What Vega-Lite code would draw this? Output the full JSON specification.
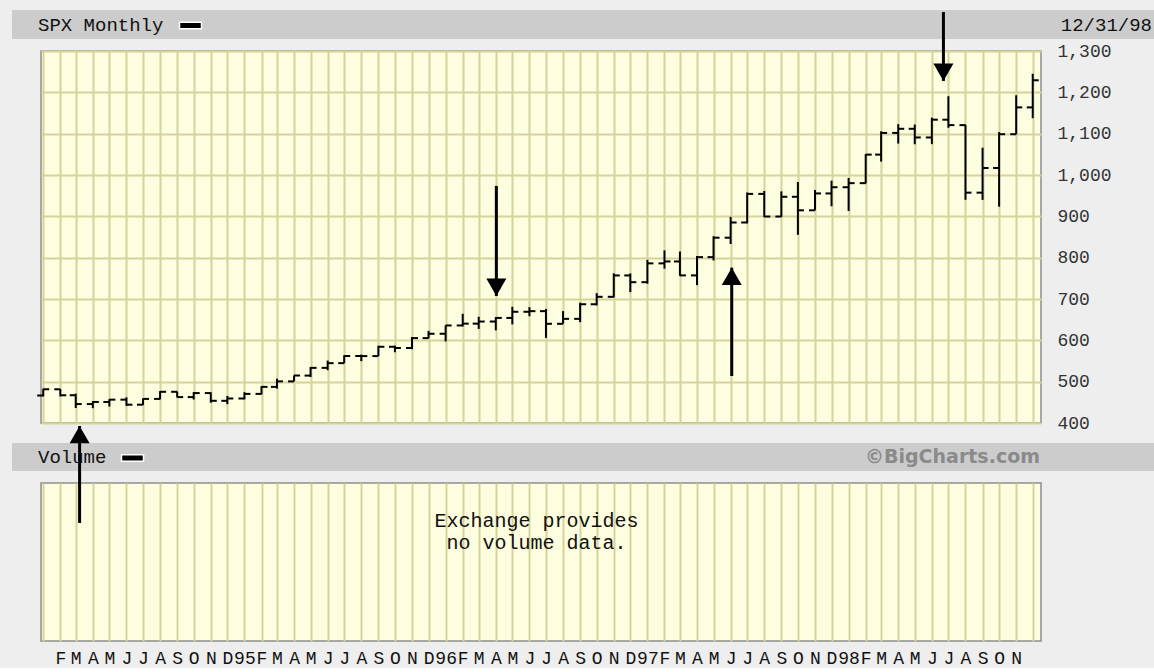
{
  "$schema": "https://vega.github.io/schema/vega-lite/v6.json",
  "background": "#eeeeee",
  "padding": {"left": 12, "top": 9, "right": 0, "bottom": 0},
  "columns": 2,
  "align": "each",
  "bounds": "flush",
  "spacing": 0,
  "config": {
    "view": {"stroke": null},
    "text": {"font": "Liberation Mono"}
  },
  "datasets": {
    "blank": [{}],
    "ohlc": [
      {"date": "1994/01/01", "open": 466.5, "high": 482.9, "low": 464.4, "close": 481.6},
      {"date": "1994/02/01", "open": 481.6, "high": 482.2, "low": 464.3, "close": 467.1},
      {"date": "1994/03/01", "open": 467.2, "high": 471.1, "low": 436.2, "close": 445.8},
      {"date": "1994/04/01", "open": 445.8, "high": 453.0, "low": 435.9, "close": 450.9},
      {"date": "1994/05/01", "open": 450.9, "high": 457.6, "low": 439.8, "close": 456.5},
      {"date": "1994/06/01", "open": 456.5, "high": 462.1, "low": 441.5, "close": 444.3},
      {"date": "1994/07/01", "open": 444.3, "high": 459.3, "low": 443.4, "close": 458.3},
      {"date": "1994/08/01", "open": 458.3, "high": 477.2, "low": 457.2, "close": 475.5},
      {"date": "1994/09/01", "open": 475.5, "high": 476.0, "low": 461.9, "close": 462.7},
      {"date": "1994/10/01", "open": 462.7, "high": 474.7, "low": 456.8, "close": 472.4},
      {"date": "1994/11/01", "open": 472.4, "high": 474.3, "low": 449.1, "close": 453.7},
      {"date": "1994/12/01", "open": 453.7, "high": 465.3, "low": 445.6, "close": 459.3},
      {"date": "1995/01/01", "open": 459.3, "high": 474.5, "low": 457.2, "close": 470.4},
      {"date": "1995/02/01", "open": 470.4, "high": 489.2, "low": 469.3, "close": 487.4},
      {"date": "1995/03/01", "open": 487.4, "high": 507.2, "low": 483.2, "close": 500.7},
      {"date": "1995/04/01", "open": 500.7, "high": 515.2, "low": 500.7, "close": 514.7},
      {"date": "1995/05/01", "open": 514.7, "high": 535.4, "low": 511.3, "close": 533.4},
      {"date": "1995/06/01", "open": 533.4, "high": 551.1, "low": 527.7, "close": 544.8},
      {"date": "1995/07/01", "open": 544.8, "high": 563.8, "low": 544.8, "close": 562.1},
      {"date": "1995/08/01", "open": 562.1, "high": 565.6, "low": 549.6, "close": 561.9},
      {"date": "1995/09/01", "open": 561.9, "high": 586.8, "low": 561.9, "close": 584.4},
      {"date": "1995/10/01", "open": 584.4, "high": 587.2, "low": 571.2, "close": 581.5},
      {"date": "1995/11/01", "open": 581.5, "high": 608.0, "low": 578.6, "close": 605.4},
      {"date": "1995/12/01", "open": 605.4, "high": 622.9, "low": 605.1, "close": 615.9},
      {"date": "1996/01/01", "open": 615.9, "high": 636.2, "low": 597.3, "close": 636.0},
      {"date": "1996/02/01", "open": 636.0, "high": 664.2, "low": 633.7, "close": 640.4},
      {"date": "1996/03/01", "open": 640.4, "high": 657.0, "low": 627.6, "close": 645.5},
      {"date": "1996/04/01", "open": 645.5, "high": 656.3, "low": 624.1, "close": 654.2},
      {"date": "1996/05/01", "open": 654.2, "high": 681.1, "low": 638.6, "close": 669.1},
      {"date": "1996/06/01", "open": 669.1, "high": 680.3, "low": 658.4, "close": 670.6},
      {"date": "1996/07/01", "open": 670.6, "high": 675.9, "low": 605.9, "close": 640.0},
      {"date": "1996/08/01", "open": 640.0, "high": 670.7, "low": 640.0, "close": 652.0},
      {"date": "1996/09/01", "open": 652.0, "high": 690.9, "low": 644.0, "close": 687.3},
      {"date": "1996/10/01", "open": 687.3, "high": 714.1, "low": 684.4, "close": 705.3},
      {"date": "1996/11/01", "open": 705.3, "high": 762.1, "low": 703.8, "close": 757.0},
      {"date": "1996/12/01", "open": 757.0, "high": 761.8, "low": 716.7, "close": 740.7},
      {"date": "1997/01/01", "open": 740.7, "high": 794.7, "low": 737.0, "close": 786.2},
      {"date": "1997/02/01", "open": 786.2, "high": 817.7, "low": 773.4, "close": 790.8},
      {"date": "1997/03/01", "open": 790.8, "high": 814.9, "low": 756.1, "close": 757.1},
      {"date": "1997/04/01", "open": 757.1, "high": 804.1, "low": 733.5, "close": 801.3},
      {"date": "1997/05/01", "open": 801.3, "high": 851.9, "low": 793.2, "close": 848.3},
      {"date": "1997/06/01", "open": 848.3, "high": 898.7, "low": 833.0, "close": 885.1},
      {"date": "1997/07/01", "open": 885.1, "high": 957.7, "low": 883.1, "close": 954.3},
      {"date": "1997/08/01", "open": 954.3, "high": 961.4, "low": 898.2, "close": 899.5},
      {"date": "1997/09/01", "open": 899.5, "high": 960.3, "low": 898.5, "close": 947.3},
      {"date": "1997/10/01", "open": 947.3, "high": 983.1, "low": 855.3, "close": 914.6},
      {"date": "1997/11/01", "open": 914.6, "high": 963.7, "low": 914.6, "close": 955.4},
      {"date": "1997/12/01", "open": 955.4, "high": 986.3, "low": 924.4, "close": 970.4},
      {"date": "1998/01/01", "open": 970.4, "high": 992.7, "low": 912.8, "close": 980.3},
      {"date": "1998/02/01", "open": 980.3, "high": 1050.3, "low": 979.6, "close": 1049.3},
      {"date": "1998/03/01", "open": 1049.3, "high": 1105.7, "low": 1032.5, "close": 1101.8},
      {"date": "1998/04/01", "open": 1101.8, "high": 1123.0, "low": 1076.1, "close": 1111.8},
      {"date": "1998/05/01", "open": 1111.8, "high": 1122.0, "low": 1074.4, "close": 1090.8},
      {"date": "1998/06/01", "open": 1090.8, "high": 1138.8, "low": 1074.7, "close": 1133.8},
      {"date": "1998/07/01", "open": 1133.8, "high": 1190.6, "low": 1114.3, "close": 1120.7},
      {"date": "1998/08/01", "open": 1120.7, "high": 1121.5, "low": 940.0, "close": 957.3},
      {"date": "1998/09/01", "open": 957.3, "high": 1066.1, "low": 939.7, "close": 1017.0},
      {"date": "1998/10/01", "open": 1017.0, "high": 1103.8, "low": 923.3, "close": 1098.7},
      {"date": "1998/11/01", "open": 1098.7, "high": 1193.0, "low": 1098.7, "close": 1163.6},
      {"date": "1998/12/01", "open": 1163.6, "high": 1244.9, "low": 1137.4, "close": 1229.2}
    ],
    "arrows": [
      {"date": "1994/03/08", "tail": 158.1, "tip": 392.7, "dir": "up"},
      {"date": "1996/04/02", "tail": 973.4, "tip": 707.3, "dir": "down"},
      {"date": "1997/06/03", "tail": 513.7, "tip": 775.7, "dir": "up"},
      {"date": "1998/06/22", "tail": 1394, "tip": 1227.4, "dir": "down"}
    ]
  },
  "concat": [
    {"width": 29, "height": 29, "view": {"fill": "#cccccc", "stroke": null}, "data": {"name": "blank"}, "mark": {"type": "text", "text": ""}},
    {
      "width": 1113, "height": 29,
      "view": {"fill": "#cccccc", "stroke": null},
      "encoding": {
        "x": {"field": "side", "type": "nominal", "scale": {"type": "point", "domain": ["left", "right"], "padding": 0}, "axis": null}
      },
      "layer": [
        {
          "data": {"values": [{"side": "left", "label": "SPX Monthly"}]},
          "mark": {"type": "text", "align": "left", "dx": -3, "fontSize": 19, "color": "#111111", "font": "Liberation Mono"},
          "encoding": {"text": {"field": "label"}}
        },
        {
          "data": {"values": [{"side": "left"}]},
          "mark": {"type": "point", "shape": "M-1,-0.3H1V0.3H-1Z", "size": 484, "filled": true, "color": "#000000", "stroke": "#ffffff", "strokeWidth": 1.5, "opacity": 1, "xOffset": 149.5, "yOffset": 1}
        },
        {
          "data": {"values": [{"side": "right", "label": "12/31/98"}]},
          "mark": {"type": "text", "align": "right", "dx": -2, "fontSize": 19, "color": "#111111", "font": "Liberation Mono"},
          "encoding": {"text": {"field": "label"}}
        }
      ]
    },
    {"width": 1, "height": 12, "data": {"name": "blank"}, "mark": {"type": "text", "text": ""}},
    {"width": 1, "height": 12, "data": {"name": "blank"}, "mark": {"type": "text", "text": ""}},
    {"width": 1, "height": 372, "data": {"name": "blank"}, "mark": {"type": "text", "text": ""}},
    {
      "width": 1000, "height": 372,
      "view": {"fill": "#fdfddf", "stroke": "#8f8f8f", "strokeWidth": 1.5},
      "data": {"name": "ohlc"},
      "encoding": {
        "x": {
          "field": "date", "type": "temporal", "title": null,
          "scale": {"domain": [{"year": 1993, "month": 12, "date": 28}, {"year": 1998, "month": 12, "date": 16}], "nice": false},
          "axis": {"grid": true, "gridColor": "#d4d49a", "gridWidth": 2, "labels": false, "ticks": false, "domain": false, "title": null, "tickCount": {"interval": "month", "step": 1}}
        }
      },
      "layer": [
        {
          "mark": {"type": "rule", "strokeWidth": 2, "color": "#000000"},
          "encoding": {
            "y": {
              "field": "low", "type": "quantitative", "title": null,
              "scale": {"domain": [400, 1300], "nice": false, "zero": false},
              "axis": {"orient": "right", "values": [400, 500, 600, 700, 800, 900, 1000, 1100, 1200, 1300], "format": ",d", "grid": true, "gridColor": "#d4d49a", "gridWidth": 2, "ticks": false, "domain": false, "labelPadding": 16, "labelFont": "Liberation Mono", "labelFontSize": 18, "labelColor": "#333333", "title": null}
            },
            "y2": {"field": "high"}
          }
        },
        {
          "mark": {"type": "tick", "orient": "horizontal", "size": 6, "thickness": 2, "xOffset": -3, "color": "#000000", "opacity": 1},
          "encoding": {"y": {"field": "open", "type": "quantitative", "title": null}}
        },
        {
          "mark": {"type": "tick", "orient": "horizontal", "size": 6, "thickness": 2, "xOffset": 3, "color": "#000000", "opacity": 1},
          "encoding": {"y": {"field": "close", "type": "quantitative", "title": null}}
        }
      ]
    },
    {"width": 1, "height": 20, "data": {"name": "blank"}, "mark": {"type": "text", "text": ""}},
    {"width": 1, "height": 20, "data": {"name": "blank"}, "mark": {"type": "text", "text": ""}},
    {"width": 29, "height": 28, "view": {"fill": "#cccccc", "stroke": null}, "data": {"name": "blank"}, "mark": {"type": "text", "text": ""}},
    {
      "width": 1113, "height": 28,
      "view": {"fill": "#cccccc", "stroke": null},
      "encoding": {
        "x": {"field": "side", "type": "nominal", "scale": {"type": "point", "domain": ["left", "right"], "padding": 0}, "axis": null}
      },
      "layer": [
        {
          "data": {"values": [{"side": "left", "label": "Volume"}]},
          "mark": {"type": "text", "align": "left", "dx": -3, "fontSize": 19, "color": "#111111", "font": "Liberation Mono"},
          "encoding": {"text": {"field": "label"}}
        },
        {
          "data": {"values": [{"side": "left"}]},
          "mark": {"type": "point", "shape": "M-1,-0.3H1V0.3H-1Z", "size": 484, "filled": true, "color": "#000000", "stroke": "#ffffff", "strokeWidth": 1.5, "opacity": 1, "xOffset": 91.5, "yOffset": 1}
        },
        {
          "data": {"values": [{"side": "right", "label": "©BigCharts.com"}]},
          "mark": {"type": "text", "align": "right", "dx": -114, "fontSize": 19, "fontWeight": "bold", "color": "#8a8a8a", "font": "DejaVu Sans"},
          "encoding": {"text": {"field": "label"}}
        }
      ]
    },
    {"width": 1, "height": 12, "data": {"name": "blank"}, "mark": {"type": "text", "text": ""}},
    {"width": 1, "height": 12, "data": {"name": "blank"}, "mark": {"type": "text", "text": ""}},
    {"width": 1, "height": 158, "data": {"name": "blank"}, "mark": {"type": "text", "text": ""}},
    {
      "width": 1000, "height": 158,
      "view": {"fill": "#fdfddf", "stroke": "#8f8f8f", "strokeWidth": 1.5},
      "layer": [
        {
          "data": {"values": [{"date": "1996/06/14", "level": 162.9, "msg": "Exchange provides\nno volume data."}]},
          "mark": {"type": "text", "lineBreak": "\n", "lineHeight": 22, "fontSize": 20, "color": "#111111", "font": "Liberation Mono"},
          "encoding": {
            "x": {
              "field": "date", "type": "temporal", "title": null,
              "scale": {"domain": [{"year": 1993, "month": 12, "date": 28}, {"year": 1998, "month": 12, "date": 16}], "nice": false},
              "axis": {
                "grid": true, "gridColor": "#d4d49a", "gridWidth": 2, "ticks": false, "domain": false, "title": null,
                "tickCount": {"interval": "month", "step": 1},
                "labelOverlap": false, "labelFlush": false, "labelPadding": 8,
                "labelFont": "Liberation Mono", "labelFontSize": 18, "labelColor": "#111111",
                "labelExpr": "(datum.value < time(datetime(1994, 0, 15)) || datum.value > time(datetime(1998, 10, 15))) ? '' : (month(datum.value) == 0 ? timeFormat(datum.value, '%y') : slice(timeFormat(datum.value, '%b'), 0, 1))"
              }
            },
            "y": {"field": "level", "type": "quantitative", "title": null, "scale": {"domain": [-127.4, 254.8], "nice": false, "zero": false}, "axis": null},
            "text": {"field": "msg"}
          }
        },
        {
          "data": {"name": "arrows"},
          "mark": {"type": "rule", "strokeWidth": 3, "color": "#000000"},
          "encoding": {
            "x": {"field": "date", "type": "temporal", "title": null},
            "y": {"field": "tail", "type": "quantitative", "title": null},
            "y2": {"field": "tip"}
          }
        },
        {
          "data": {"name": "arrows"},
          "transform": [{"filter": "datum.dir == 'down'"}],
          "mark": {"type": "point", "shape": "triangle-down", "size": 400, "filled": true, "color": "#000000", "opacity": 1, "yOffset": -8.7},
          "encoding": {
            "x": {"field": "date", "type": "temporal", "title": null},
            "y": {"field": "tip", "type": "quantitative", "title": null}
          }
        },
        {
          "data": {"name": "arrows"},
          "transform": [{"filter": "datum.dir == 'up'"}],
          "mark": {"type": "point", "shape": "triangle-up", "size": 400, "filled": true, "color": "#000000", "opacity": 1, "yOffset": 8.7},
          "encoding": {
            "x": {"field": "date", "type": "temporal", "title": null},
            "y": {"field": "tip", "type": "quantitative", "title": null}
          }
        }
      ]
    }
  ]
}
